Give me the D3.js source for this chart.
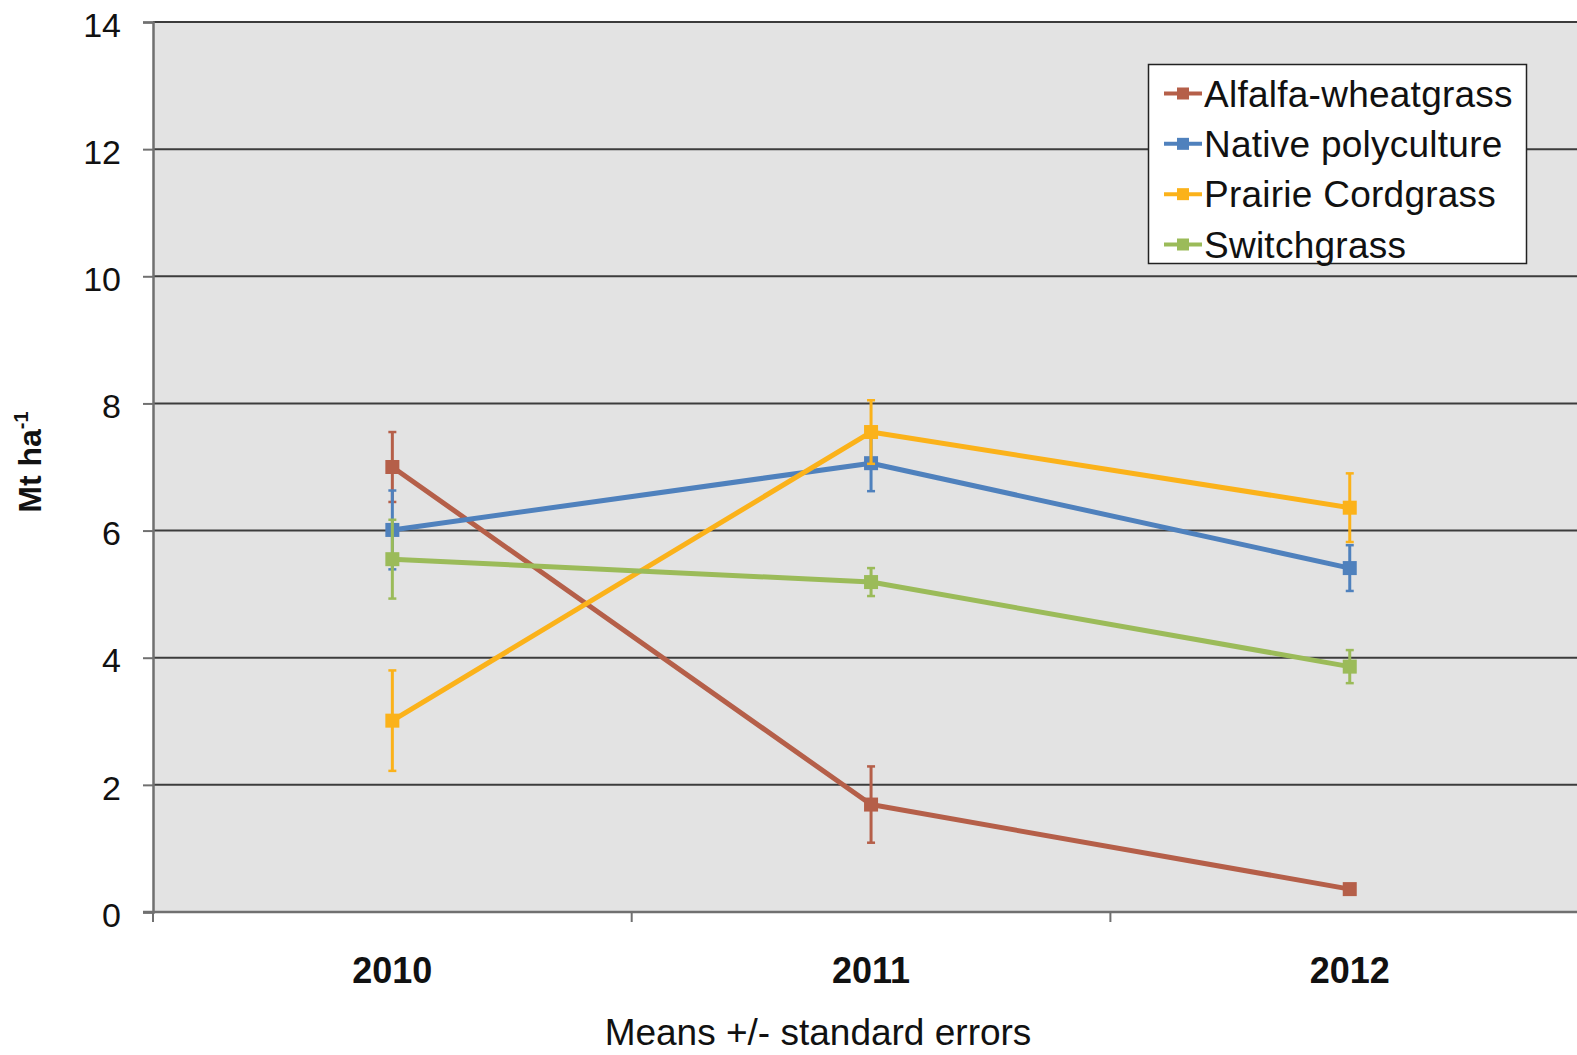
<!DOCTYPE html>
<html>
<head>
<meta charset="utf-8">
<script src="https://cdn.jsdelivr.net/npm/d3@7"></script>
<style>
  html, body { margin: 0; padding: 0; background: #ffffff; overflow: hidden; }
  svg { display: block; font-family: "Liberation Sans", Arial, sans-serif; }
</style>
</head>
<body>
<svg id="chart" width="1577" height="1055"></svg>
<script>
// Harvest years on the x axis
const years = ["2010", "2011", "2012"];

// Mean dry matter yield (Mt ha-1) per cropping system
const alfalfaMeans = [7.0, 1.69, 0.36];
const nativeMeans = [6.01, 7.06, 5.41];
const prairieMeans = [3.01, 7.55, 6.36];
const switchMeans = [5.55, 5.19, 3.86];

// Standard errors of the means
const alfalfaSE = [0.55, 0.6, 0.0];
const nativeSE = [0.62, 0.44, 0.36];
const prairieSE = [0.79, 0.5, 0.54];
const switchSE = [0.62, 0.22, 0.26];

const seriesNames = ["Alfalfa-wheatgrass", "Native polyculture", "Prairie Cordgrass", "Switchgrass"];
const seriesColors = ["#b55f49", "#4f81bd", "#fbb21a", "#9bbb59"];

const yTicks = [0, 2, 4, 6, 8, 10, 12, 14];

const series = [
  { name: seriesNames[0], color: seriesColors[0], means: alfalfaMeans, se: alfalfaSE },
  { name: seriesNames[1], color: seriesColors[1], means: nativeMeans, se: nativeSE },
  { name: seriesNames[2], color: seriesColors[2], means: prairieMeans, se: prairieSE },
  { name: seriesNames[3], color: seriesColors[3], means: switchMeans, se: switchSE }
];

const svg = d3.select("#chart");
const plotLeft = 153, plotTop = 22, plotBottom = 912;
const bandW = 478.7;
const plotRight = plotLeft + bandW * years.length;

const x = d3.scaleBand().domain(years).range([plotLeft, plotRight]).padding(0);
const y = d3.scaleLinear().domain([0, 14]).range([plotBottom, plotTop]);
const cx = d => x(d) + x.bandwidth() / 2;

// plot area
svg.append("rect")
  .attr("x", plotLeft).attr("y", plotTop)
  .attr("width", plotRight - plotLeft).attr("height", plotBottom - plotTop)
  .attr("fill", "#e3e3e3");

// horizontal gridlines
svg.append("g").selectAll("line")
  .data(yTicks.filter(t => t > 0))
  .join("line")
  .attr("x1", plotLeft).attr("x2", plotRight)
  .attr("y1", d => y(d)).attr("y2", d => y(d))
  .attr("stroke", "#3c3c3c").attr("stroke-width", 2);

// y axis
const yAxis = svg.append("g").attr("transform", `translate(${plotLeft},0)`)
  .call(d3.axisLeft(y).tickValues(yTicks).tickSize(10).tickPadding(22).tickFormat(d3.format("d")));
yAxis.select(".domain").attr("stroke", "#707070").attr("stroke-width", 2.5);
yAxis.selectAll(".tick line").attr("stroke", "#707070").attr("stroke-width", 2);
yAxis.selectAll(".tick text")
  .attr("font-size", 34).attr("fill", "#111").attr("dy", "0.42em")
  .attr("font-family", "Liberation Sans, Arial, sans-serif");

// x axis: ticks at category boundaries, labels at centres
const xAxisG = svg.append("g");
xAxisG.append("line")
  .attr("x1", plotLeft - 10).attr("x2", plotRight)
  .attr("y1", plotBottom).attr("y2", plotBottom)
  .attr("stroke", "#707070").attr("stroke-width", 2.5);
xAxisG.selectAll("line.tk")
  .data(years)
  .join("line").attr("class", "tk")
  .attr("x1", d => x(d)).attr("x2", d => x(d))
  .attr("y1", plotBottom).attr("y2", plotBottom + 10)
  .attr("stroke", "#707070").attr("stroke-width", 2);
xAxisG.selectAll("text")
  .data(years)
  .join("text")
  .attr("x", d => cx(d)).attr("y", 983)
  .attr("text-anchor", "middle")
  .attr("font-size", 36).attr("font-weight", "bold").attr("fill", "#111")
  .text(d => d);

// y axis title
const yTitle = svg.append("text")
  .attr("transform", "translate(41,462) rotate(-90)")
  .attr("text-anchor", "middle")
  .attr("font-size", 32).attr("font-weight", "bold").attr("fill", "#111");
yTitle.append("tspan").text("Mt ha");
yTitle.append("tspan").attr("font-size", 20).attr("dy", -13).text("-1");

// footnote
svg.append("text")
  .attr("x", 818).attr("y", 1045)
  .attr("text-anchor", "middle")
  .attr("font-size", 37).attr("fill", "#111")
  .text("Means +/- standard errors");

// series: error bars, lines, markers
const line = d3.line().x((d, i) => cx(years[i])).y(d => y(d));
const gSeries = svg.append("g");
series.forEach(s => {
  const g = gSeries.append("g");
  const bars = years.map((yr, i) => ({ yr, m: s.means[i], e: s.se[i] })).filter(d => d.e > 0);
  g.selectAll("line.eb").data(bars).join("line").attr("class", "eb")
    .attr("x1", d => cx(d.yr)).attr("x2", d => cx(d.yr))
    .attr("y1", d => y(d.m + d.e)).attr("y2", d => y(d.m - d.e))
    .attr("stroke", s.color).attr("stroke-width", 3);
  ["top", "bot"].forEach(k => {
    g.selectAll("line.cap" + k).data(bars).join("line").attr("class", "cap" + k)
      .attr("x1", d => cx(d.yr) - 4).attr("x2", d => cx(d.yr) + 4)
      .attr("y1", d => y(k === "top" ? d.m + d.e : d.m - d.e))
      .attr("y2", d => y(k === "top" ? d.m + d.e : d.m - d.e))
      .attr("stroke", s.color).attr("stroke-width", 2.5);
  });
  g.append("path").datum(s.means)
    .attr("d", line).attr("fill", "none")
    .attr("stroke", s.color).attr("stroke-width", 5).attr("stroke-linejoin", "round");
  g.selectAll("rect").data(s.means).join("rect")
    .attr("x", (d, i) => cx(years[i]) - 7).attr("y", d => y(d) - 7)
    .attr("width", 14).attr("height", 14).attr("fill", s.color);
});

// legend
const lg = svg.append("g");
lg.append("rect")
  .attr("x", 1148.5).attr("y", 64.5).attr("width", 378).attr("height", 199)
  .attr("fill", "#ffffff").attr("stroke", "#222").attr("stroke-width", 1.5);
const rowY = d3.scalePoint().domain(seriesNames).range([93.5, 244.5]);
series.forEach(s => {
  const ry = rowY(s.name);
  lg.append("line").attr("x1", 1164).attr("x2", 1202).attr("y1", ry).attr("y2", ry)
    .attr("stroke", s.color).attr("stroke-width", 4);
  lg.append("rect").attr("x", 1177).attr("y", ry - 6).attr("width", 12).attr("height", 12)
    .attr("fill", s.color);
  lg.append("text").attr("x", 1204).attr("y", ry + 13)
    .attr("font-size", 37).attr("letter-spacing", 0.25).attr("fill", "#111").text(s.name);
});
</script>
</body>
</html>
